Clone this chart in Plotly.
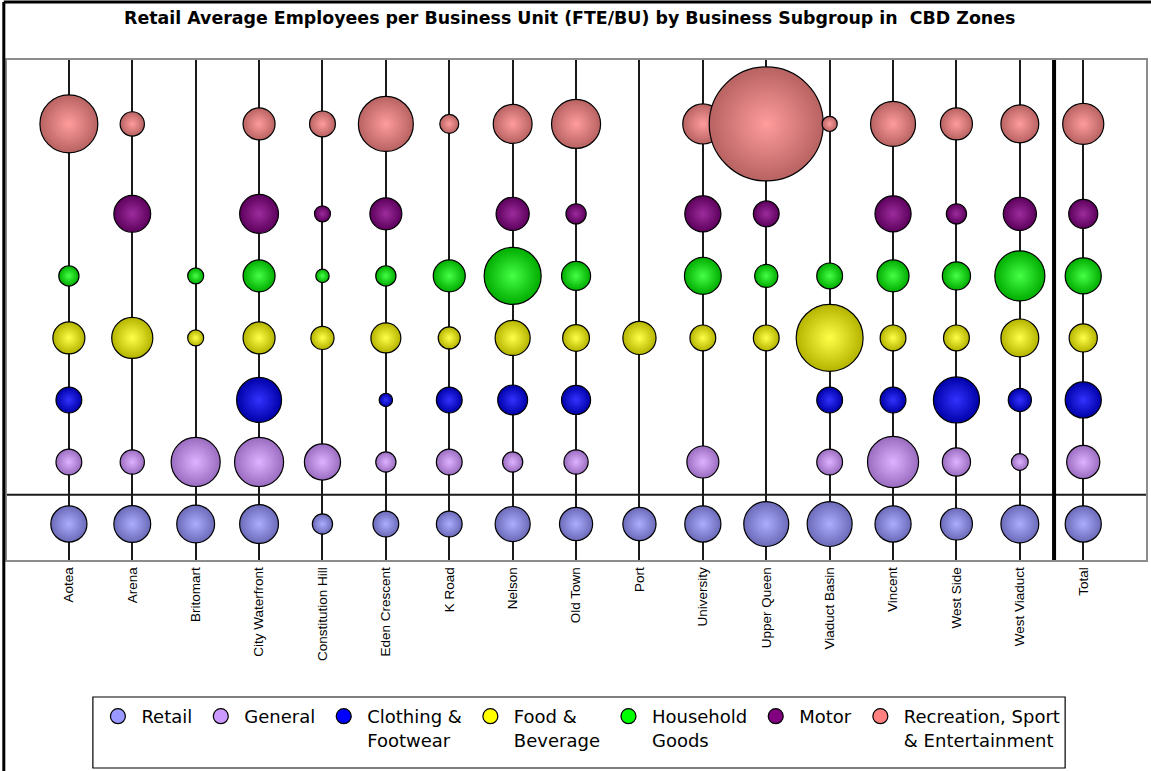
import plotly.graph_objects as go

# ---------------- data (FTE per business unit) ----------------
zones = ["Aotea", "Arena", "Britomart", "City Waterfront", "Constitution Hill",
         "Eden Crescent", "K Road", "Nelson", "Old Town", "Port", "University",
         "Upper Queen", "Viaduct Basin", "Vincent", "West Side", "West Viaduct", "Total"]

retail = [5.1, 5.3, 5.6, 5.9, 1.6, 2.6, 2.6, 4.8, 4.3, 4.3, 5.1, 7.9, 7.9, 5.1, 4.0, 5.6, 5.1]
general = [2.6, 2.3, 9.4, 9.4, 5.1, 1.6, 2.6, 1.6, 2.3, None, 4.0, None, 2.6, 10.2, 3.1, 1.1, 4.3]
clothing = [2.6, None, None, 7.9, None, 0.7, 2.6, 3.5, 3.3, None, None, None, 2.6, 2.6, 8.3, 2.1, 5.1]
food = [4.0, 6.6, 1.0, 4.0, 2.1, 3.5, 1.9, 4.8, 2.8, 4.3, 2.6, 2.6, 17.5, 2.6, 2.6, 5.6, 3.1]
household = [1.6, None, 1.0, 4.0, 0.7, 1.6, 4.0, 12.7, 3.3, None, 5.3, 2.1, 2.6, 4.0, 3.1, 9.8, 5.1]
motor = [None, 5.3, None, 5.9, 1.0, 4.0, None, 4.3, 1.6, None, 5.1, 2.6, None, 5.1, 1.6, 4.3, 3.3]
recreation = [13.1, 2.3, None, 4.0, 2.6, 11.8, 1.4, 5.9, 9.4, None, 6.3, 50.8, 0.9, 7.9, 4.0, 5.6, 6.6]

series_names = ["Retail", "General", "Clothing & Footwear", "Food & Beverage",
                "Household Goods", "Motor", "Recreation, Sport & Entertainment"]
legend_labels = ["Retail", "General", "Clothing &amp;<br>Footwear", "Food &amp;<br>Beverage",
                 "Household<br>Goods", "Motor", "Recreation, Sport<br>&amp; Entertainment"]
series_values = [retail, general, clothing, food, household, motor, recreation]

# ---------------- styling ----------------
row_level = [0, 1, 2, 3, 4, 5, 6.45]
base_colors = ["#9999FF", "#CC99FF", "#0000FF", "#FFFF00", "#00FF00", "#800080", "#FF8080"]
center_colors = ["#ADADFF", "#DEB2FF", "#3232FF", "#FFFF48", "#46FF46", "#9C2C9C", "#FF9C9C"]
edge_colors = ["#6A6AB8", "#9A6CC0", "#0000A8", "#B4B400", "#00AC00", "#5C005C", "#B86262"]
SIZEREF = 2 / 256.0
FONT = "Liberation Sans, Arial, sans-serif"
WIDE = "DejaVu Sans, Verdana, sans-serif"

fig = go.Figure()
for i, (name, vals) in enumerate(zip(series_names, series_values)):
    xs = [z for z, v in zip(zones, vals) if v is not None]
    ss = [v for v in vals if v is not None]
    fig.add_trace(go.Scatter(
        x=xs, y=[row_level[i]] * len(xs), mode="markers", name=name,
        showlegend=False,
        marker=dict(size=ss, sizemode="area", sizeref=SIZEREF, color=edge_colors[i],
                    opacity=1,
                    gradient=dict(type="radial", color=center_colors[i]),
                    line=dict(color="black", width=1.2)),
        hovertemplate="%{x}<br>" + name + ": %{marker.size:.1f} FTE/BU<extra></extra>"))

# legend entries
for i, lab in enumerate(legend_labels):
    fig.add_trace(go.Scatter(
        x=[None], y=[None], mode="markers", name=lab, showlegend=True,
        marker=dict(size=15, color=base_colors[i], opacity=1,
                    line=dict(color="black", width=1.2))))

fig.update_layout(
    width=1151, height=771,
    margin=dict(l=7, r=3, t=60, b=211),
    paper_bgcolor="white", plot_bgcolor="white",
    font=dict(family=FONT, color="black"),
    title=dict(text="<b>Retail Average Employees per Business Unit (FTE/BU) by Business Subgroup in  CBD Zones</b>",
               x=0.495, xanchor="center", y=0.977, yanchor="middle",
               font=dict(size=17.4, family=WIDE, color="black")),
    showlegend=True,
    legend=dict(orientation="h", x=0.503, xanchor="center", y=-0.276, yanchor="top",
                bgcolor="rgba(0,0,0,0)", borderwidth=0, itemwidth=37,
                font=dict(size=18, family=WIDE, color="black"),
                valign="top", traceorder="normal", itemclick=False, itemdoubleclick=False),
    xaxis=dict(type="category", categoryorder="array", categoryarray=zones,
               range=[-0.976, 16.99], tickangle=-90, tickfont=dict(size=13.5, family=FONT),
               showgrid=True, gridcolor="#1a1a1a", gridwidth=1.5,
               showline=True, linecolor="#8c8c8c", linewidth=1.5, mirror=True,
               ticks="", zeroline=False, fixedrange=True, automargin=False),
    yaxis=dict(range=[-0.58, 7.48], showticklabels=False, showgrid=False, zeroline=False,
               showline=True, linecolor="#8c8c8c", linewidth=1.5, mirror=True, ticks="",
               fixedrange=True),
    shapes=[
        # separator between Retail and the subgroups
        dict(type="line", xref="paper", x0=0, x1=1, yref="y", y0=0.47, y1=0.47,
             line=dict(color="#1a1a1a", width=2), layer="below"),
        # thick divider before Total
        dict(type="line", xref="x", x0=15.54, x1=15.54, yref="paper", y0=0, y1=1,
             line=dict(color="black", width=4), layer="above"),
        # legend frame
        dict(type="rect", xref="paper", x0=0.0754, x1=0.929, yref="paper", y0=-0.416, y1=-0.274,
             line=dict(color="black", width=1.2), fillcolor="white", layer="below"),
        # outer chart frame (left and top edges)
        dict(type="line", xref="paper", x0=-0.0028, x1=-0.0028, yref="paper", y0=-0.43, y1=1.116,
             line=dict(color="black", width=3)),
        dict(type="line", xref="paper", x0=-0.0028, x1=1.01, yref="paper", y0=1.116, y1=1.116,
             line=dict(color="black", width=3)),
    ],
)

fig.write_html("out.html", config={"displayModeBar": False},
               post_script="document.body.style.margin='0';document.body.style.overflow='hidden';")
